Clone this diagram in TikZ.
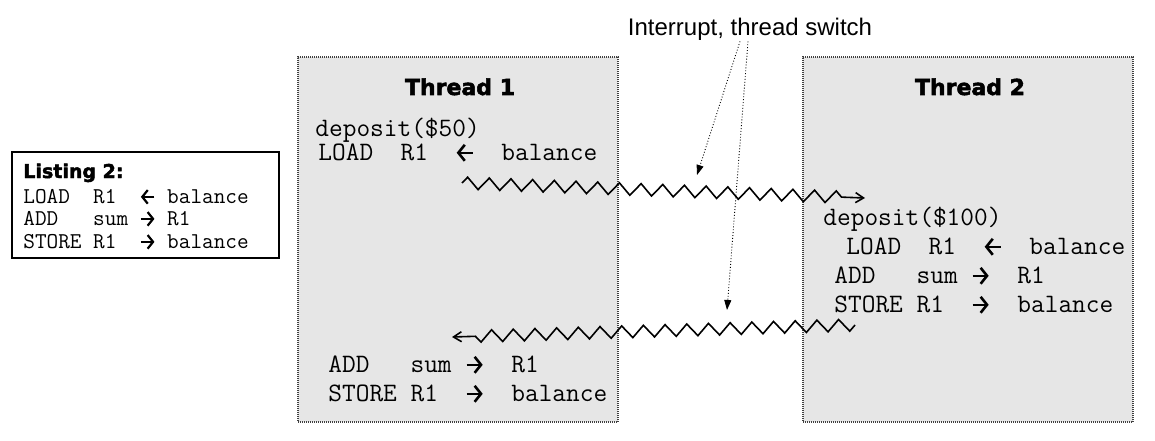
\documentclass[tikz,border=0pt]{standalone}
\usepackage{fontspec}
\setmainfont{Liberation Sans}
\newfontfamily\headfont{DejaVu Sans}[BoldFeatures={FakeBold=2.4}]
\usepackage{xcolor}
\usetikzlibrary{arrows.meta,decorations.pathmorphing}

\definecolor{threadfill}{RGB}{230,230,230}
% bold short arrows inside the code lines
\newcommand{\lar}[1][1]{\tikz[baseline=-3.6pt*#1, line width=1.3pt*#1]
  \draw[-{Straight Barb[length=3.2pt*#1,width=8pt*#1]}] (8pt*#1,0pt) -- (0pt,0pt);}
\newcommand{\rar}[1][1]{\tikz[baseline=-3.6pt*#1, line width=1.3pt*#1]
  \draw[-{Straight Barb[length=3.2pt*#1,width=8pt*#1]}] (0pt,0pt) -- (8pt*#1,0pt);}

\begin{document}
\begin{tikzpicture}[
    x=0.5pt, y=0.5pt,
    threadbox/.style={draw=black!75, dash pattern=on 0.5pt off 0.5pt, line width=0.6pt, fill=threadfill, minimum height=182.5pt, inner sep=0pt},
    listbox/.style={draw, line width=0.6pt, fill=white, minimum width=133.5pt, minimum height=53pt, inner sep=0pt},
    titletext/.style={font=\headfont\bfseries\fontsize{11}{13}\selectfont, anchor=base, inner sep=0pt},
    codeline/.style={font=\ttfamily\fontsize{13.3}{15}\selectfont, anchor=base west, inner sep=0pt},
    listline/.style={font=\ttfamily\fontsize{11.3}{13}\selectfont, anchor=base west, inner sep=0pt},
    zigline/.style={-{Straight Barb[length=4pt,width=5pt]}, line width=0.8pt, decorate,
        decoration={zigzag, segment length=10.85pt, amplitude=3pt, post length=7pt}},
    hintline/.style={-{Triangle[length=5pt,width=3.5pt]}, densely dotted, line width=0.45pt}
]
\useasboundingbox (0,0) rectangle (1155,440);

% listing on the left
\node[listbox] (listing) at (145.5,235) {};
\node[titletext, anchor=base west, font=\headfont\bfseries\fontsize{9.5}{11}\selectfont] (lsttitle) at (23,262) {Listing 2:};
\node[listline] (lst1) at (23,237) {LOAD~~R1~~\lar[0.85]~balance};
\node[listline] (lst2) at (23,215) {ADD~~~sum~\rar[0.85]~R1};
\node[listline] (lst3) at (23,192) {STORE~R1~~\rar[0.85]~balance};

% the two threads
\node[threadbox, minimum width=160pt] (thread1) at (458,200.5) {};
\node[threadbox, minimum width=165pt] (thread2) at (968,200.5) {};
\node[titletext] (t1title) at (460,345) {Thread 1};
\node[titletext] (t2title) at (970,345) {Thread 2};

\node[codeline] (t1dep) at (315,304) {deposit(\$50)};
\node[codeline] (t1load) at (318,280) {LOAD~~R1~~\lar~~balance};
\node[codeline] (t1add) at (328,68) {ADD~~~sum~\rar~~R1};
\node[codeline] (t1store) at (328,39) {STORE~R1~~\rar~~balance};

\node[codeline] (t2dep) at (823,215) {deposit(\$100)};
\node[codeline] (t2load) at (846,186) {LOAD~~R1~~\lar~~balance};
\node[codeline] (t2add) at (834,157) {ADD~~~sum~\rar~~R1};
\node[codeline] (t2store) at (834,128) {STORE~R1~~\rar~~balance};

\node[anchor=base, inner sep=0pt, font=\fontsize{12}{14}\selectfont] (irq) at (750,404) {Interrupt, thread switch};

% thread switches
\coordinate (leave1) at (462,257);
\coordinate (enter2) at (865,242);
\coordinate (leave2) at (855,115);
\coordinate (enter1) at (452,103);
\draw[zigline] (leave1) -- (enter2);
\draw[zigline] (leave2) -- (enter1);

\coordinate (hit1) at (697,265);
\coordinate (hit2) at (727,130);
\draw[hintline] ([xshift=-5pt]irq.south) -- (hit1);
\draw[hintline] ([xshift=-1pt]irq.south) -- (hit2);
\end{tikzpicture}
\end{document}
